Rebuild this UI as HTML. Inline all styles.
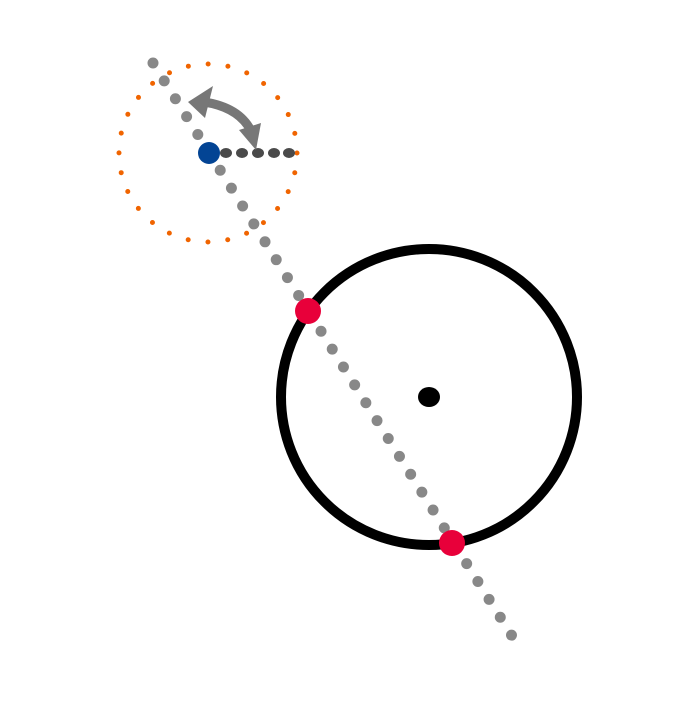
<!DOCTYPE html>
<html><head><style>html,body{margin:0;padding:0;background:#fff}</style></head><body>
<svg width="700" height="700" viewBox="0 0 700 700" xmlns="http://www.w3.org/2000/svg">
<circle cx="208" cy="153" r="89" fill="none" stroke="#f06400" stroke-width="5" stroke-linecap="round" stroke-dasharray="0 19.97"/>
<line x1="153" y1="63" x2="512" y2="636" stroke="#888" stroke-width="11" stroke-linecap="round" stroke-dasharray="0 21.1"/>
<circle cx="429" cy="397" r="148" fill="none" stroke="#000" stroke-width="10"/>
<ellipse cx="429" cy="397" rx="11" ry="10" fill="#000"/>
<g fill="#4a4a4a">
<ellipse cx="226" cy="153" rx="6" ry="5"/><ellipse cx="242" cy="153" rx="6" ry="5"/><ellipse cx="258" cy="153" rx="6" ry="5"/><ellipse cx="274" cy="153" rx="6" ry="5"/><ellipse cx="289" cy="153" rx="6" ry="5"/>
</g>
<circle cx="209" cy="153" r="11" fill="#034494"/>
<path d="M204,102 Q244,108 254,138" fill="none" stroke="#777" stroke-width="9"/>
<polygon points="188,102 213,86 205,118" fill="#777"/>
<polygon points="256,150 239,130 261,123" fill="#777"/>
<circle cx="308" cy="311" r="13" fill="#e8003a"/>
<circle cx="452" cy="543" r="13" fill="#e8003a"/>
</svg>
</body></html>
